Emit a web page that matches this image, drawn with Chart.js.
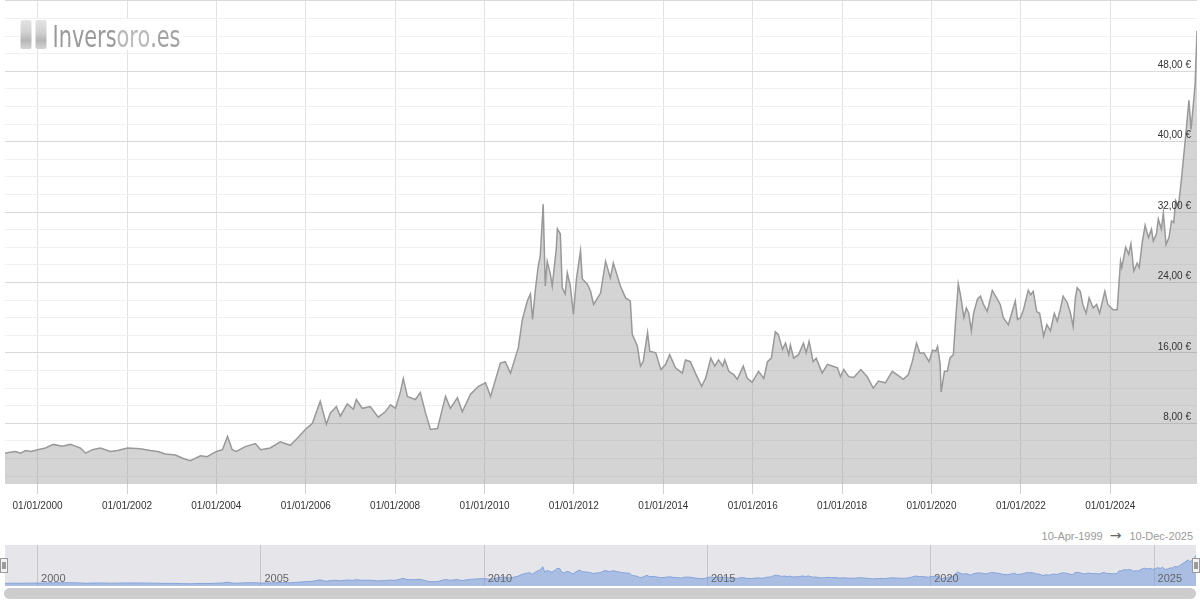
<!DOCTYPE html>
<html>
<head>
<meta charset="utf-8">
<script src="https://cdn.jsdelivr.net/npm/chart.js@4.4.1/dist/chart.umd.min.js"></script>
<style>
  body { margin: 0; background: #fff; }
  #wrap { position: relative; width: 1200px; height: 600px; overflow: hidden; }
  #main { position: absolute; left: 0; top: 0; }
  #nav { position: absolute; left: 0; top: 540px; }
  #range { position: absolute; right: 7px; top: 527px; font: 11px 'Liberation Sans', Arial, sans-serif; color: #9a9a9a; line-height: 13px; white-space: nowrap; }
  #range .arr { margin: 0 8px 0 7px; font: 14px 'DejaVu Sans', sans-serif; color: #666; }
</style>
</head>
<body>
<div id="wrap">
  <canvas id="main" width="1200" height="520"></canvas>
  <div id="range"><span>10-Apr-1999</span><span class="arr">→</span><span>10-Dec-2025</span></div>
  <canvas id="nav" width="1200" height="60"></canvas>
</div>
<script>
// Precio de la plata en euros (onza), lectura aproximada del gráfico
const startDate = '1999-04-10';
const endDate = '2025-12-10';

const dates = [
  '1999-04-10','1999-05-20','1999-07-05','1999-08-15','1999-09-25','1999-11-10',
  '2000-01-01','2000-03-05','2000-05-10','2000-07-20','2000-09-25','2000-11-05','2000-12-15',
  '2001-01-28','2001-03-25','2001-05-28','2001-08-18','2001-10-15',
  '2002-01-05','2002-04-20','2002-07-10','2002-09-10','2002-11-12',
  '2003-02-01','2003-04-06','2003-06-03','2003-08-25','2003-10-18',
  '2004-01-02','2004-02-20','2004-04-01','2004-05-10','2004-06-12','2004-08-25','2004-11-15','2004-12-28',
  '2005-03-16','2005-06-06','2005-08-28','2005-10-24','2005-12-28',
  '2006-02-24','2006-04-29','2006-06-18','2006-07-20','2006-09-08','2006-10-10','2006-12-06',
  '2007-01-25','2007-02-18','2007-04-08','2007-06-12','2007-08-16','2007-10-12','2007-11-24',
  '2008-01-04','2008-02-14','2008-03-08','2008-04-10','2008-06-15','2008-07-25','2008-09-06','2008-10-16','2008-12-12',
  '2009-02-16','2009-03-28','2009-05-24','2009-07-03','2009-09-08','2009-11-12',
  '2010-01-09','2010-02-19','2010-05-10','2010-06-19','2010-08-01','2010-10-04','2010-11-06','2010-12-16',
  '2011-01-11','2011-01-28','2011-02-22','2011-03-16','2011-04-01','2011-04-25','2011-05-12','2011-05-28',
  '2011-06-22','2011-07-08','2011-08-10','2011-08-19','2011-09-12','2011-09-28','2011-10-22','2011-11-08',
  '2011-12-03','2011-12-28',
  '2012-01-22','2012-02-24','2012-03-10','2012-04-20','2012-05-16','2012-06-10','2012-08-06','2012-09-16',
  '2012-10-25','2012-11-18',
  '2013-01-15','2013-02-26','2013-04-06','2013-04-22','2013-06-03','2013-06-28','2013-07-20','2013-08-25',
  '2013-09-12','2013-10-31','2013-12-12',
  '2014-01-20','2014-02-22','2014-04-10','2014-06-05','2014-07-01','2014-08-10','2014-09-20','2014-11-10','2014-12-12',
  '2015-01-24','2015-02-25','2015-03-28','2015-05-01','2015-05-18','2015-06-20','2015-08-01','2015-08-28',
  '2015-10-16','2015-11-18','2015-12-28',
  '2016-02-18','2016-04-01','2016-05-01','2016-06-02','2016-07-04','2016-07-28','2016-09-01','2016-09-25',
  '2016-10-22','2016-11-04','2016-12-01',
  '2017-01-10','2017-02-19','2017-03-13','2017-04-06','2017-05-09','2017-06-03','2017-07-22','2017-09-02',
  '2017-10-12','2017-11-24','2017-12-18',
  '2018-01-15','2018-02-24','2018-04-06','2018-06-03','2018-07-25','2018-09-12','2018-10-25','2018-12-20',
  '2019-02-15','2019-03-28','2019-05-16','2019-06-25','2019-07-28','2019-09-01','2019-09-28','2019-10-31','2019-12-12',
  '2020-01-10','2020-02-06','2020-02-20','2020-03-12','2020-03-20','2020-04-16','2020-05-10','2020-05-31',
  '2020-06-28','2020-07-16','2020-08-07','2020-08-25','2020-09-22','2020-10-12','2020-11-01','2020-11-22','2020-12-10',
  '2021-01-11','2021-02-05','2021-03-01','2021-04-01','2021-05-12','2021-06-22','2021-07-16','2021-08-10',
  '2021-09-20','2021-10-22','2021-11-16','2021-12-04','2021-12-28',
  '2022-01-22','2022-03-02','2022-03-22','2022-04-12','2022-05-10','2022-06-03','2022-07-06','2022-08-01',
  '2022-08-30','2022-10-01','2022-10-25','2022-11-18','2022-12-12',
  '2023-01-15','2023-02-10','2023-03-04','2023-03-22','2023-04-06','2023-05-01','2023-05-22','2023-06-18',
  '2023-07-12','2023-08-15','2023-09-12','2023-10-06','2023-11-18','2023-12-12',
  '2024-01-24','2024-02-27','2024-03-10','2024-03-25','2024-04-04','2024-05-06','2024-05-31','2024-06-18',
  '2024-07-12','2024-08-08','2024-08-25','2024-09-18','2024-10-12','2024-11-08','2024-12-03','2024-12-18',
  '2025-01-12','2025-01-28','2025-02-22','2025-03-10','2025-04-01','2025-04-25','2025-05-16','2025-06-03',
  '2025-06-18','2025-07-12','2025-08-06','2025-09-10','2025-10-05','2025-10-22','2025-11-08','2025-11-25','2025-12-10'
];

const prices = [
  4.6, 4.7, 4.8, 4.6, 4.9, 4.8,
  5.0, 5.2, 5.6, 5.4, 5.6, 5.4, 5.2,
  4.6, 5.0, 5.2, 4.8, 4.9,
  5.2, 5.1, 4.9, 4.8, 4.5,
  4.4, 4.0, 3.75, 4.3, 4.2,
  4.8, 5.0, 6.5, 5.0, 4.8, 5.35, 5.7, 5.0,
  5.2, 5.9, 5.5, 6.3, 7.3,
  8.0, 10.5, 7.9, 9.15, 9.9, 8.8, 10.2,
  9.6, 10.7, 9.7, 9.9, 8.7, 9.3, 10.1,
  9.7, 11.6, 13.1, 11.05, 10.7, 11.5, 9.15, 7.3, 7.4,
  11.05, 9.7, 10.9, 9.3, 11.3, 12.2,
  12.6, 11.05, 14.85, 15.0, 13.7, 16.6, 19.8, 21.9,
  22.7, 19.8, 23.4, 25.9, 27.0, 32.9, 23.6, 26.4,
  25.0, 23.6, 27.8, 30.1, 29.5, 23.4, 22.7, 25.1,
  23.6, 20.4,
  24.4, 27.6, 24.4, 23.8, 23.0, 21.5, 22.8, 26.4,
  24.5, 26.2,
  23.6, 22.25, 21.9, 18.1, 16.75, 14.5, 15.0, 18.3,
  16.2, 16.0, 14.1,
  14.7, 15.8, 14.3, 13.7, 15.2, 15.0, 13.7, 12.2, 13.1,
  15.4, 14.5, 15.2, 14.5, 15.2, 13.9, 13.5, 13.0,
  14.5, 13.1, 12.65,
  13.9, 13.1, 15.0, 15.4, 18.4, 18.1, 16.4, 17.1,
  15.8, 16.9, 15.4,
  15.8, 17.1, 16.0, 17.3, 15.0, 15.4, 13.7, 14.7,
  14.5, 14.3, 13.3,
  14.1, 13.3, 13.2, 14.1, 13.3, 12.0, 12.8, 12.6,
  13.9, 13.5, 13.0, 13.5, 15.0, 17.1, 16.0, 16.0, 15.0,
  16.3, 16.2, 16.75, 14.7, 11.55, 13.9, 13.9, 15.4,
  15.8, 19.6, 23.85, 22.6, 20.0, 21.1, 20.5, 18.5, 20.5,
  22.1, 22.45, 21.5, 20.7, 23.1, 22.1, 21.5, 20.0,
  19.2, 20.7, 21.9, 19.8, 20.0,
  20.9, 23.1, 22.6, 23.0, 20.7, 20.5, 17.9, 19.2,
  18.5, 20.5, 19.6, 20.9, 22.45,
  21.7, 20.5, 19.0, 22.25, 23.4, 23.0, 21.5, 20.5,
  22.25, 21.1, 21.5, 20.5, 23.0, 21.5,
  20.9, 20.9, 23.4, 26.4, 25.7, 28.0, 27.2, 28.4,
  25.3, 26.2, 25.7, 28.5, 30.5, 29.1, 30.05, 28.7,
  29.5, 31.2, 30.05, 31.9, 28.3, 29.1, 31.0, 30.8,
  33.3, 32.7, 35.9, 40.9, 44.7, 41.4, 43.9, 46.6, 52.6
];

const xTickDates = ['2000-01-01','2002-01-01','2004-01-01','2006-01-01','2008-01-01','2010-01-01',
  '2012-01-01','2014-01-01','2016-01-01','2018-01-01','2020-01-01','2022-01-01','2024-01-01'];
const yTickLabels = [8, 16, 24, 32, 40, 48];
const navYears = ['2000', '2005', '2010', '2015', '2020', '2025'];

const family = "'Liberation Sans', Arial, sans-serif";
const points = dates.map((d, i) => ({ x: Date.parse(d), y: prices[i] }));

function pad(n) { return n < 10 ? '0' + n : '' + n; }
function fmtDate(v) {
  const d = new Date(v);
  return pad(d.getUTCDate()) + '/' + pad(d.getUTCMonth() + 1) + '/' + d.getUTCFullYear();
}
function fmtEur(v) { return v.toFixed(2).replace('.', ',') + ' €'; }

function roundRect(c, x, y, w, h, r) {
  c.beginPath();
  c.moveTo(x + r, y);
  c.arcTo(x + w, y, x + w, y + h, r);
  c.arcTo(x + w, y + h, x, y + h, r);
  c.arcTo(x, y + h, x, y, r);
  c.arcTo(x, y, x + w, y, r);
  c.closePath();
}

// etiquetas del eje Y dentro del gráfico, encima de cada línea
const yLabelsPlugin = {
  id: 'yLabels',
  afterDatasetsDraw(chart) {
    const c = chart.ctx;
    const sy = chart.scales.y;
    const right = chart.chartArea.right;
    c.save();
    c.font = '10px ' + family;
    c.fillStyle = '#333';
    c.textAlign = 'right';
    c.textBaseline = 'middle';
    yTickLabels.forEach(v => c.fillText(fmtEur(v), right - 6, sy.getPixelForValue(v) - 6));
    c.restore();
  }
};

// logo de marca de agua
const logoPlugin = {
  id: 'logo',
  afterDraw(chart) {
    const c = chart.ctx;
    c.save();
    c.fillStyle = '#fff';
    c.fillRect(19, 19, 164, 31);
    [20.5, 35.5].forEach(x => {
      const g = c.createLinearGradient(0, 20, 0, 49);
      g.addColorStop(0, '#e4e4e4');
      g.addColorStop(0.45, '#cfcfcf');
      g.addColorStop(0.7, '#b6b6b6');
      g.addColorStop(1, '#d4d4d4');
      c.fillStyle = g;
      roundRect(c, x, 20, 11, 29, 2);
      c.fill();
    });
    c.font = '31px "DejaVu Sans Condensed", "Liberation Sans Narrow", "Liberation Sans"';
    c.textBaseline = 'alphabetic';
    const parts = [['Invers', '#9a9a9a'], ['oro', '#b9b9b9'], ['.es', '#a3a3a3']];
    const total = parts.reduce((s, p) => s + c.measureText(p[0]).width, 0);
    c.translate(52.5, 47);
    c.scale(128 / total, 1);
    let x = 0;
    parts.forEach(([t, col]) => {
      c.fillStyle = col;
      c.fillText(t, x, 0);
      x += c.measureText(t).width;
    });
    c.restore();
  }
};

new Chart(document.getElementById('main'), {
  type: 'line',
  data: {
    datasets: [{
      data: points,
      borderColor: '#999999',
      borderWidth: 1.5,
      backgroundColor: 'rgba(128,128,128,0.34)',
      fill: 'start',
      pointRadius: 0,
      tension: 0
    }]
  },
  options: {
    responsive: false,
    animation: false,
    layout: { padding: { left: 5, right: 3, top: 0, bottom: 2 } },
    plugins: { legend: { display: false }, tooltip: { enabled: false } },
    scales: {
      x: {
        type: 'linear',
        min: Date.parse(startDate),
        max: Date.parse(endDate),
        afterBuildTicks: s => { s.ticks = xTickDates.map(d => ({ value: Date.parse(d) })); },
        ticks: {
          callback: v => fmtDate(v),
          color: '#333',
          font: { size: 10, family: family },
          maxRotation: 0,
          autoSkip: false,
          padding: 6
        },
        grid: { color: '#e2e2e2', tickColor: '#d0d0d0', tickLength: 10 },
        border: { display: false }
      },
      y: {
        position: 'right',
        min: 1.1,
        max: 56.1,
        afterBuildTicks: s => {
          const t = [];
          for (let v = 2; v <= 56; v += 2) t.push({ value: v });
          s.ticks = t;
        },
        ticks: { display: false },
        grid: {
          drawTicks: false,
          color: ctx => (ctx.tick && ctx.tick.value % 8 === 0) ? '#d9d9d9' : '#f0f0f0'
        },
        border: { display: false }
      }
    }
  },
  plugins: [yLabelsPlugin, logoPlugin]
});

// navegador inferior
const navPlugin = {
  id: 'navigator',
  beforeDraw(chart) {
    const { left, top, width, height } = chart.chartArea;
    const c = chart.ctx;
    c.save();
    c.fillStyle = '#e6e6ea';
    c.fillRect(left, top, width, height);
    c.restore();
  },
  afterDraw(chart) {
    const c = chart.ctx;
    const { left, right, bottom } = chart.chartArea;
    const sx = chart.scales.x;
    c.save();
    c.font = '11px ' + family;
    c.fillStyle = '#666';
    c.textBaseline = 'alphabetic';
    navYears.forEach(y => {
      const px = sx.getPixelForValue(Date.parse(y + '-01-01'));
      c.fillText(y, px + 3.5, bottom - 4);
    });
    // asas
    [left - 4.5, right - 3.5].forEach(hx => {
      c.fillStyle = '#f2f2f2';
      c.strokeStyle = '#999';
      c.lineWidth = 1;
      c.fillRect(hx, 18.5, 7, 14);
      c.strokeRect(hx, 18.5, 7, 14);
      c.strokeStyle = '#444';
      c.beginPath();
      c.moveTo(hx + 2.5, 22); c.lineTo(hx + 2.5, 29);
      c.moveTo(hx + 4.5, 22); c.lineTo(hx + 4.5, 29);
      c.stroke();
    });
    // barra de desplazamiento
    c.fillStyle = '#cdcdcd';
    roundRect(c, 4, 48, 1192, 11, 5.5);
    c.fill();
    c.restore();
  }
};

new Chart(document.getElementById('nav'), {
  type: 'line',
  data: {
    datasets: [{
      data: points,
      borderColor: '#86a4da',
      borderWidth: 1,
      backgroundColor: 'rgba(110,150,222,0.5)',
      fill: 'start',
      pointRadius: 0,
      tension: 0
    }]
  },
  options: {
    responsive: false,
    animation: false,
    layout: { padding: { left: 5, right: 4, top: 5, bottom: 14 } },
    plugins: { legend: { display: false }, tooltip: { enabled: false } },
    scales: {
      x: {
        type: 'linear',
        min: Date.parse(startDate),
        max: Date.parse(endDate),
        afterBuildTicks: s => { s.ticks = navYears.map(y => ({ value: Date.parse(y + '-01-01') })); },
        ticks: { display: false },
        grid: { color: '#c6c6c6', drawTicks: false },
        border: { display: false }
      },
      y: { display: false, min: 0, max: 70 }
    }
  },
  plugins: [navPlugin]
});
</script>
</body>
</html>
